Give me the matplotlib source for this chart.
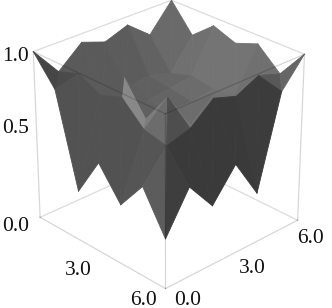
import numpy as np
import matplotlib
matplotlib.use('Agg')
from matplotlib import pyplot as plt
from matplotlib.tri import Triangulation

plt.rcParams['font.family'] = 'Liberation Serif'

grid = np.arange(7)
# z[x][y]
z_values = np.array([
    [1.00, 0.83, 0.95, 0.90, 0.95, 0.84, 1.00],
    [0.84, 0.875, 0.72, 0.68, 0.70, 0.66, 0.84],
    [0.30, 0.81, 0.86, 0.66, 0.68, 0.70, 0.95],
    [0.535, 0.855, 0.67, 0.66, 0.66, 0.68, 0.90],
    [0.355, 0.73, 0.86, 0.64, 0.76, 0.70, 0.95],
    [0.53, 0.70, 0.74, 0.855, 0.81, 0.875, 0.83],
    [0.295, 0.53, 0.355, 0.535, 0.30, 0.84, 1.00],
])
# gray level of each cell, from the picture
cell_gray = np.array([
    [75, 90, 90, 92, 98, 106],
    [82, 90, 92, 96, 102, 112],
    [82, 90, 96, 100, 108, 116],
    [82, 95, 100, 108, 112, 116],
    [85, 100, 116, 112, 116, 112],
    [78, 58, 58, 58, 60, 88],
])
z_labels = ['1.0', '0.5', '0.0']
x_labels = ['3.0', '6.0']
y_labels = ['0.0', '3.0', '6.0']

W, H = 332, 308
fig = plt.figure(figsize=(W / 100, H / 100), dpi=100)
ax = fig.add_axes([-0.0045, 0.0385, 1, 1], projection='3d', computed_zorder=False)
ax.set_proj_type('persp', focal_length=1.0)
ax.view_init(elev=27.5, azim=-43.7)
ax.set_box_aspect((1, 1, 1), zoom=1.02)
ax.set_xlim(0, 1)
ax.set_ylim(0, 1)
ax.set_zlim(0, 1)
ax.set_axis_off()
ax.patch.set_alpha(0)

u = grid / 6
X, Y = np.meshgrid(u, u, indexing='ij')

# cut each cell along the (-1, 1) diagonal, two triangles per cell
tris = []
gray = []
for i in range(6):
    for j in range(6):
        a, b, c, d = i * 7 + j, (i + 1) * 7 + j, i * 7 + j + 1, (i + 1) * 7 + j + 1
        tris.append([a, b, c])
        tris.append([b, d, c])
        gray += [cell_gray[i, j], cell_gray[i, j]]
tris = np.array(tris)
gray = np.array(gray, dtype=float)

# the light patch in the middle and the faces next to the tip
gray[(2 * 6 + 1) * 2 + 1] = 136
gray[(3 * 6 + 1) * 2] = 136
gray[(3 * 6 + 1) * 2 + 1] = 125
gray[(4 * 6 + 1) * 2] = 108
gray[(4 * 6 + 1) * 2 + 1] = 78
gray[(5 * 6 + 0) * 2] = 92
gray[(5 * 6 + 0) * 2 + 1] = 62
gray[(5 * 6 + 5) * 2 + 1] = 102
gray[(0 * 6 + 0) * 2] = 70
gray = gray / 255
colors = np.column_stack([gray, gray, gray])

back = [([0, 0], [0, 1], [1, 1]), ([0, 1], [1, 1], [1, 1]),
        ([0, 0], [0, 1], [0, 0]), ([0, 1], [1, 1], [0, 0]),
        ([0, 0], [1, 1], [0, 1])]
front = [([0, 1], [0, 0], [1, 1]), ([1, 1], [0, 1], [1, 1]),
         ([1, 1], [0, 0], [0, 1]), ([0, 1], [0, 0], [0, 0]), ([1, 1], [0, 1], [0, 0]),
         ([0, 0], [0, 0], [0, 1]), ([1, 1], [1, 1], [0, 1])]
for bx, by, bz in back:
    ax.plot(bx, by, bz, color='#dcdcdc', lw=0.9, zorder=1)
surf = ax.plot_trisurf(Triangulation(X.ravel(), Y.ravel(), tris), z_values.ravel(), shade=False,
                       linewidth=0.6, zorder=2)
surf.set_facecolor(colors)
surf.set_edgecolor(colors)
for bx, by, bz in front:
    ax.plot(bx, by, bz, color='k', alpha=0.16, lw=0.9, zorder=3)


def label(px, py, txt):
    fig.text(px / W, 1 - py / H, txt, fontsize=15.5, ha='left', va='baseline', color='#111111')


label(2, 61, z_labels[0])
label(2, 133, z_labels[1])
label(2, 231, z_labels[2])
label(65, 275, x_labels[0])
label(130, 305, x_labels[1])
label(174, 305, y_labels[0])
label(239, 273, y_labels[1])
label(297, 243, y_labels[2])

fig.savefig('out.png', dpi=100)
